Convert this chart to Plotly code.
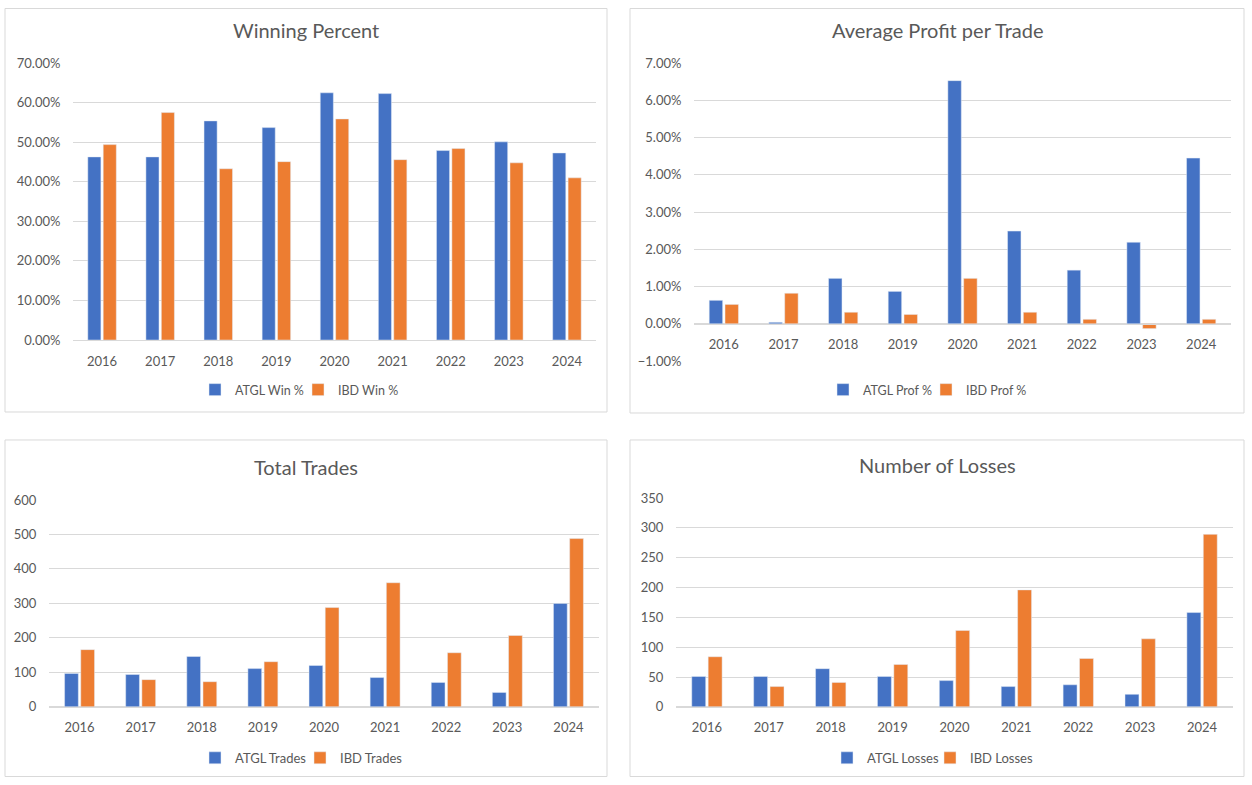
import plotly.graph_objects as go

W, H = 1252, 785
# the photo of the page comes out with an 8px band on top and a small
# vertical squeeze, so layout positions are mapped back through that
SQ = H / (H + 16)
BAND = 8

years = ["2016", "2017", "2018", "2019", "2020", "2021", "2022", "2023", "2024"]

# Winning percent (%)
atgl_win = [46.3, 46.3, 55.4, 53.7, 62.5, 62.3, 47.9, 50.1, 47.3]
ibd_win = [49.4, 57.5, 43.3, 45.1, 55.9, 45.6, 48.4, 44.8, 41.0]

# Average profit per trade (%)
atgl_prof = [0.63, 0.04, 1.22, 0.87, 6.53, 2.49, 1.44, 2.19, 4.45]
ibd_prof = [0.52, 0.82, 0.31, 0.25, 1.22, 0.31, 0.12, -0.13, 0.12]

# Total trades
atgl_trades = [97, 94, 146, 111, 120, 85, 71, 42, 300]
ibd_trades = [166, 79, 73, 131, 288, 360, 157, 207, 488]

# Number of losses
atgl_losses = [51, 51, 64, 51, 44, 34, 37, 21, 158]
ibd_losses = [84, 34, 41, 71, 128, 196, 81, 114, 289]

BLUE = "#4472C4"
ORANGE = "#ED7D31"
GRID = "#D9D9D9"
TXT = "#595959"
FONT = "Lato"


def px_x(x):
    return x / W


def px_y(y):
    p = y / SQ - BAND
    p = min(max(p, 0.5), H - 0.5)
    return 1 - p / H


fig = go.Figure()

# panel boxes (pixels): left, top, right, bottom
panels = [
    (5, 5, 607, 412),
    (630, 5, 1244, 413),
    (5, 440, 607, 780),
    (630, 440, 1244, 780),
]
# plot areas (pixels): left, top, right, bottom
plots = [
    (73, 63, 596, 340),
    (694, 63, 1231, 361),
    (49, 500, 599, 707),
    (676, 498, 1233, 707),
]
titles = ["Winning Percent", "Average Profit per Trade", "Total Trades", "Number of Losses"]
title_y = [30, 30, 467, 465]
legend_y = [390, 390, 758, 758]
# where the first legend text starts, and spacing of the two entries
legend_x = [235, 863, 235, 867]
entry_w = [58, 58, 60, 58]

series = [
    (atgl_win, ibd_win, "ATGL Win %", "IBD Win %"),
    (atgl_prof, ibd_prof, "ATGL Prof %", "IBD Prof %"),
    (atgl_trades, ibd_trades, "ATGL Trades", "IBD Trades"),
    (atgl_losses, ibd_losses, "ATGL Losses", "IBD Losses"),
]
yranges = [(0, 70), (-1, 7), (0, 600), (0, 350)]
dticks = [10, 1, 100, 50]

for i in range(4):
    n = "" if i == 0 else str(i + 1)
    a, b, na, nb = series[i]
    lg = "legend" + n
    fig.add_trace(go.Bar(x=years, y=a, name=na, marker_color=BLUE,
                         xaxis="x" + n, yaxis="y" + n, legend=lg))
    fig.add_trace(go.Bar(x=years, y=b, name=nb, marker_color=ORANGE,
                         xaxis="x" + n, yaxis="y" + n, legend=lg))

    l, t, r, btm = plots[i]
    xd = [px_x(l), px_x(r)]
    yd = [px_y(btm), px_y(t)]
    lo, hi = yranges[i]
    pct = i < 2
    # x axis sits at the zero line
    zero_pos = yd[0] + (yd[1] - yd[0]) * (0 - lo) / (hi - lo)

    fig.layout["xaxis" + n] = dict(
        domain=xd, anchor="free", position=zero_pos, type="category",
        showline=True, linecolor=GRID, linewidth=1, showgrid=False,
        ticks="outside", ticklen=9, tickcolor="rgba(0,0,0,0)",
        tickfont=dict(size=13, color=TXT, family=FONT),
    )
    fig.layout["yaxis" + n] = dict(
        domain=yd, anchor="x" + n, range=[lo, hi], dtick=dticks[i],
        showline=False, showgrid=True, gridcolor=GRID, gridwidth=1,
        zeroline=True, zerolinecolor=GRID, zerolinewidth=1,
        tickformat=".2f" if pct else "d", ticksuffix="%" if pct else "",
        ticks="outside", ticklen=9, tickcolor="rgba(0,0,0,0)",
        tickfont=dict(size=13, color=TXT, family=FONT),
    )
    fig.layout[lg] = dict(
        orientation="h", x=px_x(legend_x[i] - 40), xanchor="left",
        y=px_y(legend_y[i]), yanchor="middle",
        font=dict(size=12.5 if i < 2 else 13, color=TXT, family=FONT),
        bgcolor="rgba(0,0,0,0)", itemwidth=30, tracegroupgap=0,
        entrywidth=entry_w[i], entrywidthmode="pixels",
    )

    pl, pt, pr, pb = panels[i]
    fig.add_shape(type="rect", xref="paper", yref="paper",
                  x0=px_x(pl), x1=px_x(pr), y0=px_y(pb), y1=px_y(pt),
                  line=dict(color=GRID, width=1), layer="below")
    fig.add_annotation(text=titles[i], xref="paper", yref="paper",
                       x=px_x((pl + pr) / 2), y=px_y(title_y[i]),
                       xanchor="center", yanchor="middle", showarrow=False,
                       font=dict(size=20, color=TXT, family=FONT))

fig.update_layout(
    width=W, height=H,
    margin=dict(l=0, r=0, t=0, b=0),
    paper_bgcolor="white", plot_bgcolor="white",
    barmode="group", bargap=0.47, bargroupgap=0.15,
    font=dict(family=FONT, color=TXT),
)

fig.write_html("out.html", config={"displayModeBar": False},
               post_script="document.body.style.margin='0';")
